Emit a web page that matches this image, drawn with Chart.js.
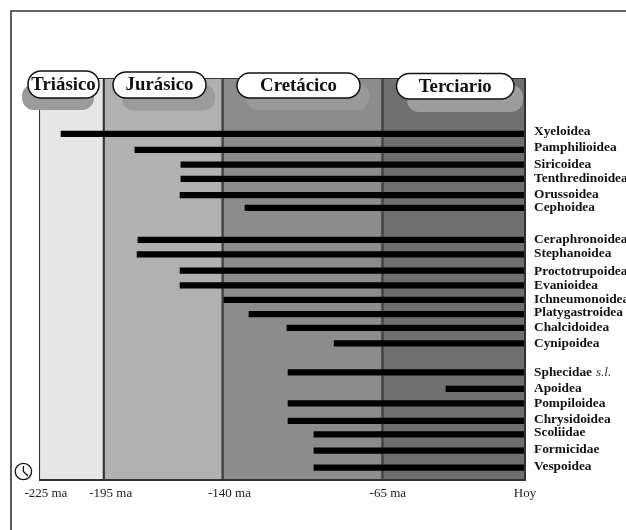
<!DOCTYPE html>
<html>
<head>
<meta charset="utf-8">
<style>html,body{margin:0;padding:0;background:#fff}canvas{display:block}</style>
<script src="https://cdn.jsdelivr.net/npm/chart.js@4"></script>
</head>
<body>
<canvas id="c" width="626" height="530"></canvas>
<script>
const taxa = ["Xyeloidea","Pamphilioidea","Siricoidea","Tenthredinoidea","Orussoidea","Cephoidea","Ceraphronoidea","Stephanoidea","Proctotrupoidea","Evanioidea","Ichneumonoidea","Platygastroidea","Chalcidoidea","Cynipoidea","Sphecidae","Apoidea","Pompiloidea","Chrysidoidea","Scoliidae","Formicidae","Vespoidea"];
const origins = [-214.8,-180.6,-159.3,-159.3,-159.7,-129.6,-179.2,-179.6,-159.7,-159.7,-139.4,-127.8,-110.2,-88.4,-109.7,-36.6,-109.7,-109.7,-97.7,-97.7,-97.7];
const barRows = [3.90,5.01,6.03,7.03,8.15,9.05,11.28,12.29,13.41,14.45,15.46,16.44,17.41,18.49,20.51,21.66,22.67,23.89,24.83,25.95,27.13];
const labelRows = [3.75,4.87,6.05,7.03,8.14,9.05,11.27,12.25,13.50,14.48,15.45,16.36,17.40,18.52,20.54,21.65,22.70,23.81,24.72,25.90,27.09];
const eras = ["Triásico","Jurásico","Cretácico","Terciario"];
const eraStarts = [-225,-195,-140,-66];
const eraEnds = [-195,-140,-66,0];
const eraColors = ["#e6e6e6","#b1b1b1","#8c8c8c","#6f6f6f"];
const tickAnchors = [-221.8,-191.8,-136.8,-63.5,0];
const tickLabels = ["-225 ma","-195 ma","-140 ma","-65 ma","Hoy"];

const SERIF = '"Liberation Serif","Times New Roman",serif';

const decor = {
  id:'decor',
  beforeDraw(chart){
    const c = chart.ctx;
    c.save();
    c.strokeStyle = '#333'; c.lineWidth = 1.6;
    c.beginPath(); c.moveTo(626,11); c.lineTo(11,11); c.lineTo(11,530); c.stroke();
    c.restore();
  },
  afterDatasetsDraw(chart){
    const c = chart.ctx, a = chart.chartArea;
    const shadows = [[22,94,84,110,'#9b9b9b'],[122,215,84,110.5,'#9b9b9b'],[246,369,83,110,'#999999'],[407,523,85,112,'#9c9c9c']];
    const pills = [[28,99,71,98],[113,206,72,98],[237,360,73,98],[396.5,514,73.5,99]];
    c.save();
    // heavier bottom and right edges of the plot
    c.strokeStyle = '#333'; c.lineWidth = 2;
    c.beginPath(); c.moveTo(a.left,a.bottom); c.lineTo(a.right,a.bottom); c.lineTo(a.right,a.top); c.stroke();
    shadows.forEach(s=>{
      c.fillStyle = s[4];
      c.beginPath(); c.roundRect(s[0],s[2],s[1]-s[0],s[3]-s[2],12); c.fill();
    });
    pills.forEach((p,i)=>{
      c.fillStyle = '#fff'; c.strokeStyle = '#111'; c.lineWidth = 1.5;
      c.beginPath(); c.roundRect(p[0],p[2],p[1]-p[0],p[3]-p[2],13); c.fill(); c.stroke();
      c.fillStyle = '#111';
      c.font = 'bold 18.8px ' + SERIF;
      c.textAlign = 'center'; c.textBaseline = 'middle';
      c.fillText(eras[i],(p[0]+p[1])/2,(p[2]+p[3])/2+0.5);
    });
    // italic qualifier after "Sphecidae"
    const y = chart.scales.y, k = taxa.indexOf("Sphecidae");
    c.font = 'bold 13.4px ' + SERIF;
    const w = c.measureText(taxa[k]).width;
    c.font = 'italic 13px ' + SERIF;
    c.fillStyle = '#333'; c.textAlign = 'left'; c.textBaseline = 'middle';
    c.fillText('s.l.', 534 + w + 4, y.getPixelForValue(labelRows[k]));
    // clock
    const cx = 23.4, cy = 471.5, r = 8.2;
    c.strokeStyle = '#111'; c.lineWidth = 1.3;
    c.beginPath(); c.arc(cx,cy,r,0,Math.PI*2); c.stroke();
    c.beginPath(); c.moveTo(cx,cy-5.5); c.lineTo(cx,cy); c.lineTo(cx+4.5,cy+4.5); c.stroke();
    c.restore();
  }
};

new Chart(document.getElementById('c'),{
  type:'bar',
  data:{
    datasets:[
      {
        label:'Eras', yAxisID:'yBand', order:2,
        data: eras.map((e,i)=>({x:[eraStarts[i],eraEnds[i]],y:'era'})),
        backgroundColor: eraColors,
        borderColor:'#333', borderWidth:1.4,
        barPercentage:1, categoryPercentage:1, grouped:false, borderSkipped:false
      },
      {
        label:'Superfamilias', yAxisID:'y', order:1,
        data: taxa.map((t,i)=>({x:[origins[i],0],y:barRows[i]})),
        backgroundColor:'#000', borderWidth:0,
        barThickness:5.6, grouped:false
      }
    ]
  },
  options:{
    indexAxis:'y',
    responsive:false, animation:false,
    layout:{padding:{left:39,top:78,right:0,bottom:0}},
    plugins:{legend:{display:false},tooltip:{enabled:false}},
    scales:{
      x:{
        type:'linear', min:-225, max:0,
        grid:{display:false,drawTicks:false}, border:{display:false},
        afterBuildTicks(a){a.ticks = tickAnchors.map(v=>({value:v}));},
        afterFit(a){a.height = 50;},
        ticks:{
          autoSkip:false, maxRotation:0, padding:6, color:'#222',
          font:{family:SERIF,size:13},
          callback:(v,i)=>tickLabels[i]
        }
      },
      y:{
        type:'linear', min:0, max:28, reverse:true, position:'right', offset:false,
        grid:{display:false,drawTicks:false}, border:{display:false},
        afterBuildTicks(a){a.ticks = labelRows.map(v=>({value:v}));},
        afterFit(a){a.width = 101;},
        ticks:{
          autoSkip:false, padding:9, color:'#111', align:'center', crossAlign:'near',
          font:{family:SERIF,size:13.4,weight:'bold'},
          callback:(v,i)=>taxa[i]
        }
      },
      yBand:{
        type:'category', labels:['era'], display:false, offset:true
      }
    }
  },
  plugins:[decor]
});
</script>
</body>
</html>
